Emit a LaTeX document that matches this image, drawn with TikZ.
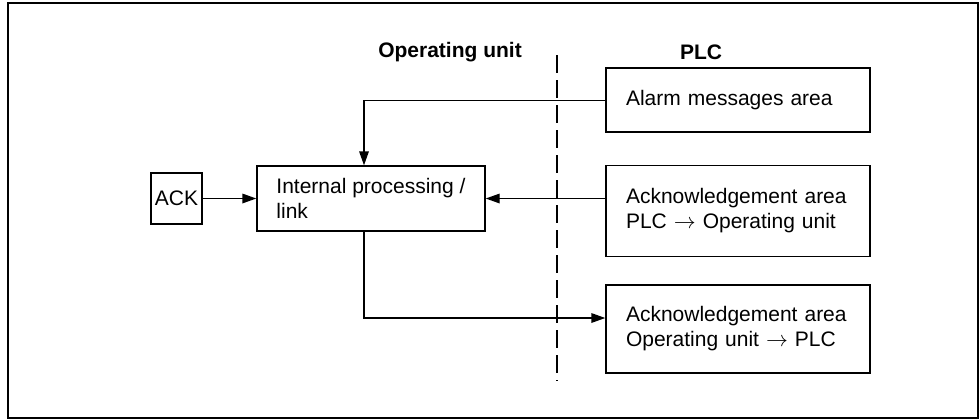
\documentclass[tikz,border=0pt]{standalone}
\usepackage{fontspec}
\setmainfont{Liberation Sans}
\usetikzlibrary{arrows.meta}
\begin{document}
\begin{tikzpicture}[x=0.5pt,y=-0.5pt,
  font=\fontsize{10.5}{12.5}\selectfont,
  wire/.style={line width=0.7pt},
  flow/.style={wire,-{Triangle[length=7pt,width=4.8pt]}},
  area/.style={draw,line width=0.7pt,minimum width=132pt,minimum height=#1,
    text width=112pt,align=left,inner xsep=10pt,inner ysep=0pt},
  heading/.style={font=\fontsize{10.5}{12.5}\selectfont\bfseries}]
  \useasboundingbox (0,0) rectangle (979,419);
  % outer frame
  \draw[line width=1pt] (8,3) rectangle (978,418);

  % column headings and separator
  \node[heading] (hou) at (450,52) {Operating unit};
  \node[heading] (hplc) at (701,52) {PLC};
  \coordinate (dtop) at (557,55);
  \coordinate (dbot) at (557,381);
  \draw[line width=0.6pt,dash pattern=on 9pt off 3.5pt] (dtop) -- (dbot);

  % operating unit side
  \node[draw,line width=0.7pt,minimum width=25.5pt,minimum height=25.5pt,inner sep=0pt]
    (ack) at (176.5,198.5) {ACK};
  \node[draw,line width=0.7pt,minimum width=114pt,minimum height=32.5pt,
    align=left,inner sep=0pt]
    (proc) at (371,198.5) {Internal processing /\\link};

  % PLC side
  \node[area=32pt] (alarm) at (738,100) {Alarm messages area};
  \node[area=45.5pt] (ackin) at (738,211) {Acknowledgement area\\PLC $\rightarrow$ Operating unit\\[12pt]};
  \node[area=44pt] (ackout) at (738,329) {Acknowledgement area\\Operating unit $\rightarrow$ PLC};

  % connections
  \coordinate (drop) at (364,100.5);
  \coordinate (turn) at (364,318);
  \draw[flow] (alarm.west |- drop) -- (drop) -- (drop |- proc.north);
  \draw[flow] (ack.east) -- (proc.east -| proc.west);
  \draw[flow] (ackin.west |- proc.east) -- (proc.east);
  \draw[flow] (turn |- proc.south) -- (turn) -- (ackout.west |- turn);
\end{tikzpicture}
\end{document}
